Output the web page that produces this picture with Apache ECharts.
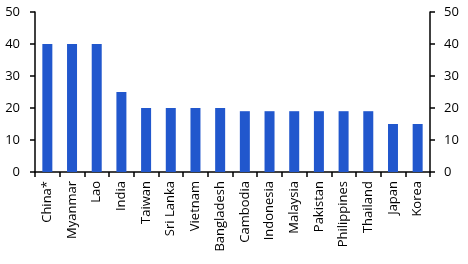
<!DOCTYPE html>
<html><head><meta charset="utf-8">
<script src="https://cdn.jsdelivr.net/npm/echarts@6/dist/echarts.min.js"></script>
<style>html,body{margin:0;padding:0;background:#fff}#c{width:468px;height:264px}</style>
</head><body><div id="c"></div>
<script>
const categories = ["China*","Myanmar","Lao","India","Taiwan","Sri Lanka","Vietnam","Bangladesh","Cambodia","Indonesia","Malaysia","Pakistan","Philippines","Thailand","Japan","Korea"];
const values = [40,40,40,25,20,20,20,20,19,19,19,19,19,19,15,15];
const yTicks = [0,10,20,30,40,50];

const chart = echarts.init(document.getElementById('c'), null, {renderer:'canvas'});
const font = "'Open Sans', 'Noto Sans', sans-serif";
const yAxisBase = {
  type:'value', min:yTicks[0], max:yTicks[yTicks.length-1], interval:10,
  axisLine:{show:true, lineStyle:{color:'#000', width:1.5}},
  axisTick:{show:true, inside:false, length:5, lineStyle:{color:'#000', width:1.5}},
  axisLabel:{color:'#000', fontSize:13, fontFamily:font, margin:15},
  splitLine:{show:false}
};
chart.setOption({
  animation:false,
  grid:{left:35, right:38, top:12, bottom:92, containLabel:false},
  xAxis:{
    type:'category', data:categories, boundaryGap:true,
    axisLine:{show:true, lineStyle:{color:'#000', width:1.5}},
    axisTick:{show:true, alignWithLabel:false, length:5, lineStyle:{color:'#000', width:1.5}},
    axisLabel:{color:'#000', fontSize:13, fontFamily:font, rotate:90, margin:9, interval:0}
  },
  yAxis:[
    Object.assign({}, yAxisBase, {position:'left'}),
    Object.assign({}, yAxisBase, {position:'right', axisLabel:Object.assign({}, yAxisBase.axisLabel, {margin:14})})
  ],
  series:[{
    type:'bar', data:values, barWidth:10, yAxisIndex:0,
    itemStyle:{color:'#2157cd'}
  }]
});
</script></body></html>
